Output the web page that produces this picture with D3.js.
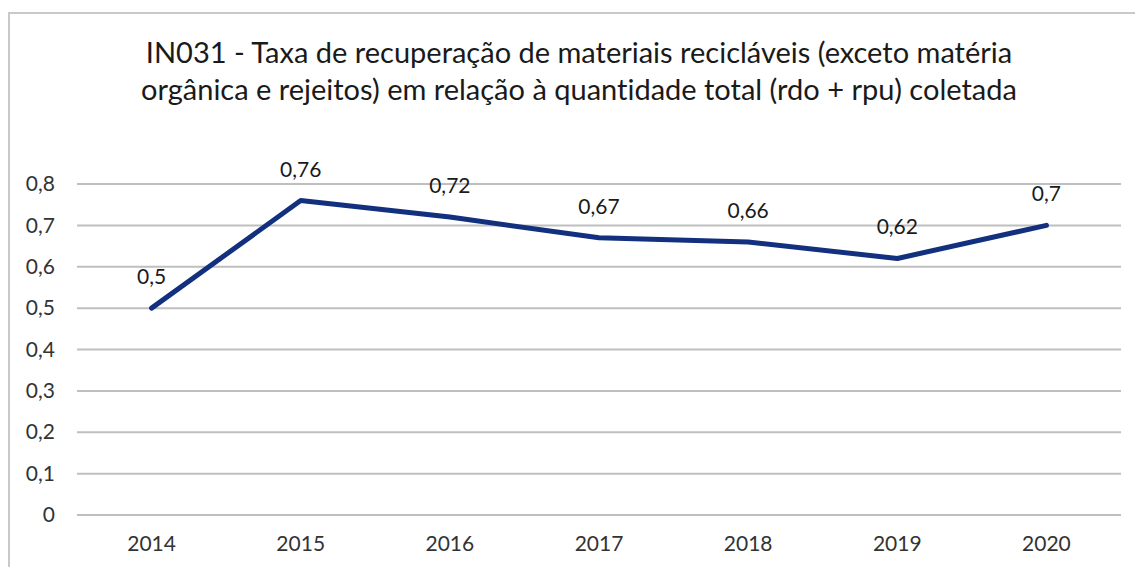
<!DOCTYPE html>
<html>
<head>
<meta charset="utf-8">
<script src="https://cdn.jsdelivr.net/npm/d3@7"></script>
<style>
  html, body { margin: 0; padding: 0; background: #fff; }
  svg { display: block; }
  text { font-variant-ligatures: none; }
</style>
</head>
<body>
<svg id="chart" width="1135" height="567"></svg>
<script>
// IN031 – recovery rate of recyclable materials, 2014–2020
const years = ["2014", "2015", "2016", "2017", "2018", "2019", "2020"];
const rates = [0.5, 0.76, 0.72, 0.67, 0.66, 0.62, 0.7];
const yTicks = [0, 0.1, 0.2, 0.3, 0.4, 0.5, 0.6, 0.7, 0.8];
const titleLines = [
  "IN031 - Taxa de recuperação de materiais recicláveis (exceto matéria",
  "orgânica e rejeitos) em relação à quantidade total (rdo + rpu) coletada"
];

const W = 1135, H = 567;
const margin = { left: 77, right: 14, top: 184, bottom: 52 };
const font = "Lato, 'Open Sans', sans-serif";
const fmt = v => String(v).replace(".", ",");

const svg = d3.select("#chart");

// outer frame of the chart
svg.append("rect")
  .attr("x", 9).attr("y", 13)
  .attr("width", W + 10).attr("height", H)
  .attr("fill", "none")
  .attr("stroke", "#c9c9c9")
  .attr("stroke-width", 2);

// title
svg.append("text")
  .attr("x", 579).attr("y", 63)
  .attr("text-anchor", "middle")
  .attr("font-family", font)
  .attr("font-size", 29)
  .attr("fill", "#1a1a1a")
  .selectAll("tspan")
  .data(titleLines)
  .join("tspan")
  .attr("x", 579)
  .attr("dy", (d, i) => i === 0 ? 0 : 37)
  .text(d => d);

const x = d3.scaleBand()
  .domain(years)
  .range([margin.left, W - margin.right]);

const y = d3.scaleLinear()
  .domain([0, 0.8])
  .range([515, 184]);

// horizontal gridlines
svg.append("g")
  .selectAll("line")
  .data(yTicks)
  .join("line")
  .attr("x1", margin.left)
  .attr("x2", W - margin.right)
  .attr("y1", d => y(d))
  .attr("y2", d => y(d))
  .attr("stroke", "#bfbfbf")
  .attr("stroke-width", 2);

// y axis labels
const yAxis = d3.axisLeft(y)
  .tickValues(yTicks)
  .tickFormat(fmt)
  .tickSize(0)
  .tickPadding(22);
const gy = svg.append("g")
  .attr("transform", `translate(${margin.left},0)`)
  .call(yAxis);
gy.select(".domain").remove();
gy.selectAll("text")
  .attr("font-family", font)
  .attr("font-size", 21)
  .attr("fill", "#333");

// x axis labels
const xAxis = d3.axisBottom(x).tickSize(0).tickPadding(21);
const gx = svg.append("g")
  .attr("transform", `translate(0,${y(0)})`)
  .call(xAxis);
gx.select(".domain").remove();
gx.selectAll("text")
  .attr("font-family", font)
  .attr("font-size", 21)
  .attr("fill", "#333");

const cx = d => x(d) + x.bandwidth() / 2;

// series line
const line = d3.line()
  .x((d, i) => cx(years[i]))
  .y(d => y(d));

svg.append("path")
  .datum(rates)
  .attr("d", line)
  .attr("fill", "none")
  .attr("stroke", "#13307e")
  .attr("stroke-width", 5)
  .attr("stroke-linejoin", "round")
  .attr("stroke-linecap", "round");

// value labels above each point
svg.append("g")
  .selectAll("text")
  .data(rates)
  .join("text")
  .attr("x", (d, i) => cx(years[i]))
  .attr("y", d => y(d) - 24)
  .attr("text-anchor", "middle")
  .attr("font-family", font)
  .attr("font-size", 21)
  .attr("fill", "#1a1a1a")
  .text(fmt);
</script>
</body>
</html>
